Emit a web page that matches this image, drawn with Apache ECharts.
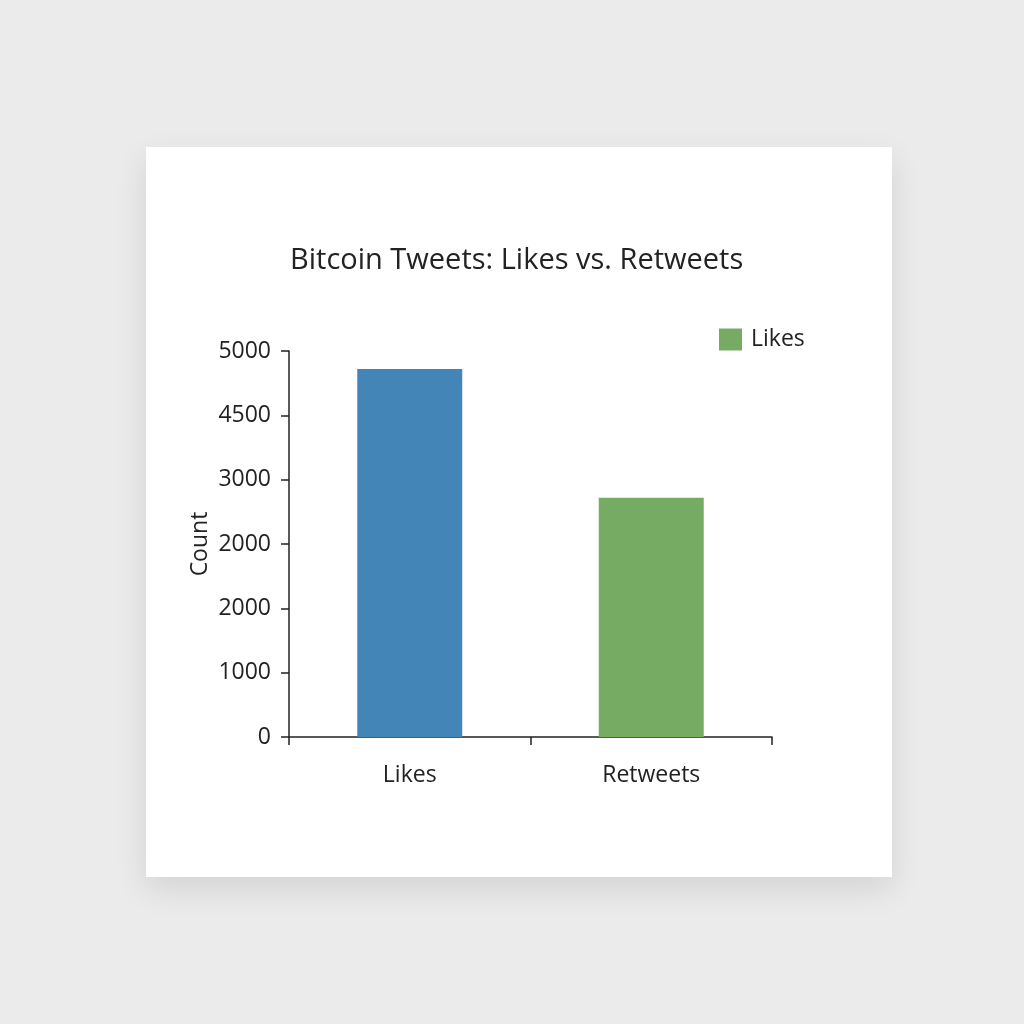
<!DOCTYPE html>
<html>
<head>
    <meta http-equiv="Content-Type" content="text/html; charset=utf-8" />
    <script type="text/javascript" src="https://cdn.jsdelivr.net/npm/echarts@6/dist/echarts.min.js"></script>
    <style>
        body { margin: 0; background: #ebebeb; }
        #card { position: absolute; left: 146px; top: 147px; width: 746px; height: 730px;
                background: #ffffff; box-shadow: 0 12px 30px rgba(0,0,0,0.10); }
        #chartDom { position: absolute; left: 0; top: 0; width: 1024px; height: 1024px; }
    </style>
</head>
<body>
    <div id="card"></div>
    <div id="chartDom"></div>

    <script type="text/javascript">
        // data
        var categories = ["Likes", "Retweets"];
        var counts = [5720, 3720];
        var barColors = ["#4485b8", "#76ab64"];
        // tick labels as printed on the chart (they are not evenly numbered)
        var tickLabels = ["0", "1000", "2000", "2000", "3000", "4500", "5000"];

        var myChart = echarts.init(document.getElementById("chartDom"));

        var option = {
            backgroundColor: "transparent",
            textStyle: { fontFamily: "Open Sans" },
            title: {
                text: "Bitcoin Tweets: Likes vs. Retweets",
                left: 290, top: 246, padding: 0,
                textStyle: { fontSize: 29, fontWeight: "normal", color: "#222", fontFamily: "Open Sans" }
            },
            legend: {
                left: 719, top: 328, padding: 0,
                icon: "rect", itemWidth: 23, itemHeight: 22, itemGap: 8,
                textStyle: { fontSize: 23, color: "#222", fontFamily: "Open Sans", padding: [0, 0, 0, 4] },
                data: [{ name: "Likes", itemStyle: { color: "#76ab64" } }]
            },
            grid: { left: 289, top: 351, width: 483, height: 386 },
            xAxis: {
                type: "category",
                data: categories,
                axisLine: { lineStyle: { color: "#222", width: 1.5 } },
                axisTick: { show: true, length: 8, lineStyle: { color: "#222", width: 1.5 } },
                axisLabel: { fontSize: 23, color: "#222", margin: 27, fontFamily: "Open Sans" }
            },
            yAxis: {
                type: "value",
                min: 0, max: 6000, interval: 1000,
                name: "Count", nameLocation: "middle", nameGap: 77,
                nameTextStyle: { fontSize: 23, color: "#222", fontFamily: "Open Sans" },
                axisLine: { show: true, lineStyle: { color: "#222", width: 1.5 } },
                axisTick: { show: true, length: 8, lineStyle: { color: "#222", width: 1.5 } },
                splitLine: { show: false },
                axisLabel: {
                    fontSize: 23, color: "#222", margin: 18, fontFamily: "Open Sans",
                    formatter: function (v) { return tickLabels[Math.round(v / 1000)]; }
                }
            },
            series: [{
                name: "Likes",
                type: "bar",
                barWidth: 105,
                data: counts.map(function (v, i) {
                    return { value: v, itemStyle: { color: barColors[i] } };
                })
            }]
        };
        myChart.setOption(option);
        window.onresize = myChart.resize;
    </script>
</body>
</html>
